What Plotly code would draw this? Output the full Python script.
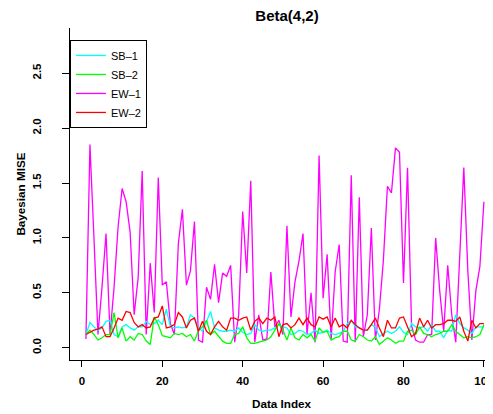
import plotly.graph_objects as go

index = list(range(1, 101))

sb1 = [0.12, 0.23, 0.19, 0.16, 0.18, 0.24, 0.25, 0.12, 0.10, 0.19,
       0.21, 0.18, 0.16, 0.19, 0.19, 0.24, 0.21, 0.22, 0.25, 0.21,
       0.35, 0.19, 0.18, 0.19, 0.18, 0.19, 0.30, 0.27, 0.18, 0.15,
       0.24, 0.33, 0.18, 0.16, 0.15, 0.15, 0.16, 0.15, 0.18, 0.14,
       0.12, 0.13, 0.21, 0.16, 0.15, 0.16, 0.16, 0.18, 0.21, 0.19,
       0.18, 0.12, 0.13, 0.16, 0.15, 0.12, 0.13, 0.16, 0.13, 0.14,
       0.16, 0.13, 0.12, 0.13, 0.15, 0.22, 0.25, 0.19, 0.18, 0.16,
       0.16, 0.21, 0.19, 0.10, 0.13, 0.15, 0.13, 0.15, 0.19, 0.14,
       0.12, 0.22, 0.19, 0.18, 0.19, 0.15, 0.21, 0.15, 0.15, 0.09,
       0.16, 0.15, 0.30, 0.22, 0.18, 0.16, 0.13, 0.19, 0.19, 0.19]

sb2 = [0.12, 0.16, 0.12, 0.07, 0.09, 0.12, 0.12, 0.32, 0.09, 0.18,
       0.06, 0.10, 0.07, 0.13, 0.12, 0.06, 0.03, 0.28, 0.21, 0.11,
       0.10, 0.09, 0.13, 0.12, 0.13, 0.10, 0.12, 0.06, 0.16, 0.19,
       0.25, 0.12, 0.15, 0.10, 0.06, 0.04, 0.04, 0.12, 0.13, 0.19,
       0.09, 0.04, 0.04, 0.05, 0.06, 0.07, 0.10, 0.16, 0.22, 0.16,
       0.07, 0.18, 0.09, 0.07, 0.12, 0.09, 0.12, 0.06, 0.18, 0.14,
       0.15, 0.07, 0.09, 0.10, 0.15, 0.15, 0.07, 0.06, 0.12, 0.10,
       0.07, 0.06, 0.10, 0.03, 0.06, 0.09, 0.07, 0.04, 0.06, 0.06,
       0.15, 0.16, 0.12, 0.19, 0.13, 0.12, 0.10, 0.12, 0.13, 0.15,
       0.15, 0.21, 0.15, 0.12, 0.09, 0.10, 0.09, 0.10, 0.12, 0.21]

ew1 = [0.08, 1.85, 1.00, 0.12, 0.55, 1.04, 0.12, 0.55, 1.10, 1.45,
       1.33, 1.05, 0.30, 0.64, 1.61, 0.12, 0.77, 0.32, 1.55, 0.57,
       0.60, 0.22, 0.12, 0.95, 1.26, 0.57, 0.70, 1.15, 0.07, 0.05,
       0.55, 0.44, 0.76, 0.41, 0.68, 0.65, 0.75, 0.05, 0.30, 1.24,
       0.68, 1.52, 0.05, 0.30, 0.07, 0.08, 0.69, 0.19, 0.25, 0.12,
       1.11, 0.28, 0.60, 0.79, 1.04, 0.12, 0.50, 0.05, 1.75, 0.45,
       0.85, 0.07, 0.69, 0.94, 0.06, 0.05, 1.57, 0.05, 1.37, 0.10,
       0.30, 1.09, 0.07, 0.35, 0.80, 1.47, 1.41, 1.82, 1.78, 0.59,
       1.64, 0.20, 0.07, 0.05, 0.05, 0.12, 0.12, 1.00, 0.52, 0.15,
       0.75, 0.30, 0.05, 0.85, 1.64, 0.70, 0.07, 0.52, 0.74, 1.33]

ew2 = [0.12, 0.14, 0.16, 0.17, 0.19, 0.10, 0.10, 0.18, 0.27, 0.25,
       0.33, 0.32, 0.23, 0.19, 0.21, 0.18, 0.19, 0.27, 0.28, 0.38,
       0.18, 0.19, 0.21, 0.32, 0.28, 0.18, 0.25, 0.27, 0.15, 0.24,
       0.15, 0.12, 0.19, 0.24, 0.19, 0.16, 0.27, 0.27, 0.25, 0.27,
       0.28, 0.16, 0.24, 0.27, 0.22, 0.27, 0.25, 0.28, 0.10, 0.21,
       0.22, 0.18, 0.21, 0.27, 0.21, 0.27, 0.21, 0.19, 0.28, 0.26,
       0.28, 0.19, 0.27, 0.19, 0.21, 0.18, 0.25, 0.21, 0.18, 0.16,
       0.16, 0.21, 0.27, 0.18, 0.10, 0.25, 0.18, 0.18, 0.27, 0.28,
       0.19, 0.10, 0.13, 0.27, 0.19, 0.25, 0.18, 0.21, 0.21, 0.22,
       0.25, 0.25, 0.24, 0.28, 0.15, 0.06, 0.25, 0.18, 0.22, 0.22]

series = [
    ("EW\u20131", ew1, "#ff00ff", 3),
    ("SB\u20131", sb1, "#00ffff", 1),
    ("SB\u20132", sb2, "#00ff00", 2),
    ("EW\u20132", ew2, "#ff0000", 4),
]

x_ticks = [0, 20, 40, 60, 80, 100]
y_ticks = [0.0, 0.5, 1.0, 1.5, 2.0, 2.5]
y_tick_text = ["0.0", "0.5", "1.0", "1.5", "2.0", "2.5"]

fig = go.Figure()
for name, vals, color, rank in series:
    fig.add_trace(go.Scatter(
        x=index, y=vals, mode="lines", name=name,
        line=dict(color=color, width=1.3),
        legendrank=rank,
    ))

font_family = "Liberation Sans, Arial, Helvetica, sans-serif"

# the page body adds an 8px margin, so the figure is 8px smaller on each side
W, H = 485, 406
fig.update_layout(
    width=W, height=H,
    margin=dict(l=62, r=0, t=20, b=54, autoexpand=False),
    paper_bgcolor="white", plot_bgcolor="white",
    font=dict(family=font_family, color="black"),
    title=dict(text="<b>Beta(4,2)</b>", xref="paper", x=0.513,
               xanchor="center", y=1 - 8 / H, yanchor="middle",
               font=dict(size=15)),
    showlegend=True,
    legend=dict(x=0, xanchor="left", y=0.964, yanchor="top",
                bordercolor="black", borderwidth=1, bgcolor="white",
                font=dict(size=11), tracegroupgap=0,
                traceorder="normal"),
    xaxis=dict(range=[-2.96, 102.26], showgrid=False, zeroline=False,
               automargin=False,
               showline=True, linecolor="black", linewidth=1,
               ticks="outside", ticklen=6, tickcolor="black",
               tickvals=x_ticks, ticklabelstandoff=4,
               ticklabeloverflow="allow",
               tickfont=dict(size=11.5, weight="bold"),
               title=dict(text="Data Index", standoff=14,
                          font=dict(size=11.7, weight="bold"))),
    yaxis=dict(range=[-0.112, 2.912], showgrid=False, zeroline=False,
               automargin=False,
               showline=True, linecolor="black", linewidth=1,
               ticks="outside", ticklen=7, tickcolor="black",
               tickvals=y_ticks, ticktext=y_tick_text, tickangle=-90,
               ticklabelstandoff=16,
               tickfont=dict(size=11.5, weight="bold"),
               title=dict(text="Bayesian MISE", standoff=3,
                          font=dict(size=11.7, weight="bold"))),
)

fig.write_html("out.html")
